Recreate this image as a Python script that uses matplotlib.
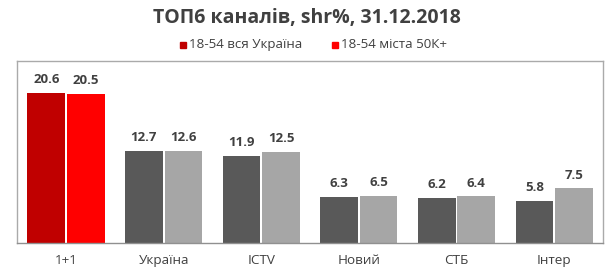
import matplotlib
matplotlib.use('Agg')
import matplotlib.pyplot as plt
import numpy as np

channels = ['1+1', 'Україна', 'ICTV', 'Новий', 'СТБ', 'Інтер']
all_ukraine = [20.6, 12.7, 11.9, 6.3, 6.2, 5.8]
cities_50k = [20.5, 12.6, 12.5, 6.5, 6.4, 7.5]
series_names = ['18-54 вся Україна', '18-54 міста 50К+']

plt.rcParams['font.family'] = ['Open Sans', 'DejaVu Sans']
text_col = '#404040'

fig = plt.figure(figsize=(6.14, 2.74), dpi=100)
ax = fig.add_axes([0.028, 0.113, 0.954, 0.664])

x = np.arange(len(channels))
w = 0.385
c1 = ['#C00000'] + ['#595959'] * 5
c2 = ['#FF0000'] + ['#A6A6A6'] * 5
b1 = ax.bar(x - w / 2 - 0.01, all_ukraine, w, color=c1)
b2 = ax.bar(x + w / 2 + 0.01, cities_50k, w, color=c2)

for bars, vals in ((b1, all_ukraine), (b2, cities_50k)):
    for r, v in zip(bars, vals):
        ax.annotate(f'{v:.1f}', (r.get_x() + r.get_width() / 2, v),
                    xytext=(0, 5), textcoords='offset points',
                    ha='center', va='bottom', fontsize=9.5,
                    fontweight='bold', color=text_col)

ax.set_xlim(-0.5, len(channels) - 0.5)
ax.set_ylim(0, 25)
ax.set_yticks([])
ax.set_xticks(x)
ax.set_xticklabels(channels, fontsize=9.7, color=text_col)
ax.tick_params(axis='x', length=0, pad=8)
for s in ax.spines.values():
    s.set_color('#AAAAAA')
    s.set_linewidth(1)
ax.spines['bottom'].set_color('#909090')

fig.text(0.5, 0.935, 'ТОП6 каналів, shr%, 31.12.2018', ha='center', va='center',
         fontsize=14, fontweight='bold', color=text_col)

# legend
leg_x = [0.293, 0.541]
for lx, col, name in zip(leg_x, ['#C00000', '#FF0000'], series_names):
    fig.patches.append(plt.Rectangle((lx, 0.825), 0.0098, 0.022,
                                     transform=fig.transFigure, color=col))
    fig.text(lx + 0.0145, 0.836, name, ha='left', va='center',
             fontsize=9.6, color=text_col)

fig.savefig('out.png', dpi=100)
